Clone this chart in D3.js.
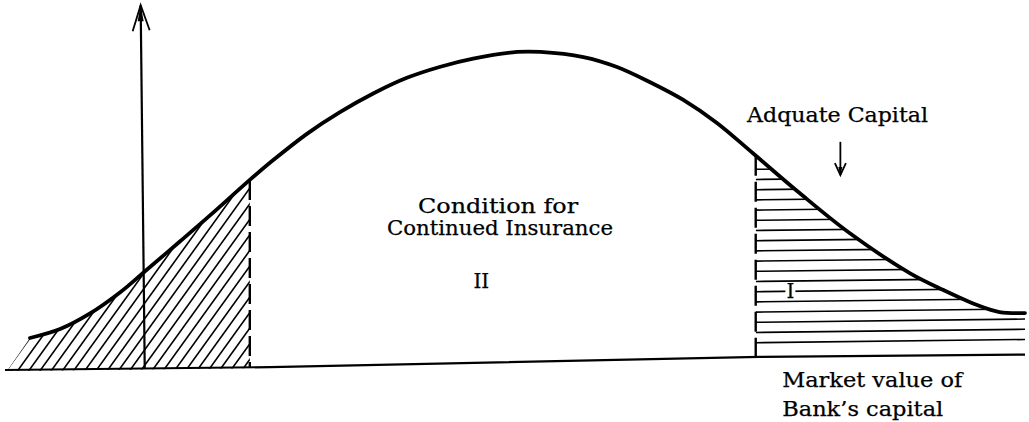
<!DOCTYPE html>
<html><head><meta charset="utf-8">
<script src="https://cdn.jsdelivr.net/npm/d3@7"></script>
<style>html,body{margin:0;padding:0;background:#fff;} svg{display:block;}</style>
</head><body>
<svg id="chart" width="1029" height="422"></svg>
<script>
// Density curve of the market value of the bank's capital (arbitrary units)
const curveX = [2.45, 5.4, 8.3, 11.3, 13.7, 17.2, 20.1, 24.0, 26.3, 29.6, 32.8, 36.1, 39.4, 42.6, 45.9, 50.2, 52.5, 56.7, 60.0, 63.2, 66.5, 69.8, 73.3, 77.9, 82.8, 88.7, 92.0, 95.3, 97.5, 100];
const curveY = [10.0, 12.8, 17.6, 24.3, 30.8, 40.3, 48.3, 59.4, 65.6, 73.8, 80.5, 86.4, 91.3, 94.7, 97.3, 99.4, 99.4, 97.8, 94.7, 90.0, 84.4, 77.2, 67.8, 55.3, 42.8, 30.3, 25.0, 20.3, 18.1, 17.8];
// hand-drawn baseline (slightly rising to the right)
const baseX = [0, 26, 74, 100];
const baseY = [0, 0.9, 4.1, 4.8];
// region boundaries
const leftCut = 24.0;
const rightCut = 73.6;
// vertical axis (bottom, top)
const axisX = [13.7, 13.3];
const axisY = [0.3, 114];
// "Adequate capital" arrow (top, tip)
const adqX = [81.9, 81.9];
const adqY = [71.3, 60.9];
// labels
const labelText = ["Adquate Capital", "Condition for", "Continued Insurance", "II", "I", "Market value of", "Bank\u2019s capital"];
const labelX = [72.75, 40.5, 37.45, 46.7, 77.0, 76.2, 76.2];
const labelY = [77.6, 49.0, 42.2, 25.6, 22.5, -5.4, -14.4];

const svg = d3.select("#chart");
const W = 1029, H = 422;
const xs = d3.scaleLinear().domain([0, 100]).range([5, 1025]);
const ys = d3.scaleLinear().domain([0, 100]).range([370, 50]);
const baseAt = d3.scaleLinear().domain(baseX).range(baseY);

const pts = curveX.map((x, i) => ({x, y: curveY[i]}));
const cv = d3.curveCatmullRom.alpha(0.5);
const lineGen = d3.line().x(d => xs(d.x)).y(d => ys(d.y)).curve(cv);
const areaGen = d3.area().x(d => xs(d.x)).y0(d => ys(baseAt(d.x)) + 1).y1(d => ys(d.y)).curve(cv);

const defs = svg.append("defs");
const tmp = svg.append("path").attr("d", lineGen(pts)).attr("fill", "none").attr("stroke", "none");
function curvePxAt(px) {
  const node = tmp.node(), L = node.getTotalLength();
  let lo = 0, hi = L, p;
  for (let i = 0; i < 50; i++) {
    const m = (lo + hi) / 2; p = node.getPointAtLength(m);
    if (p.x < px) lo = m; else hi = m;
  }
  return p.y;
}

const slope = 0.72; // hatch dx/dy
const startPx = xs(curveX[0]), startPy = ys(curveY[0]);
const baseStartPy = ys(baseAt(curveX[0]));
const triBottomX = startPx - slope * (baseStartPy - startPy);

const cp = defs.append("clipPath").attr("id", "under");
cp.append("path").attr("d", areaGen(pts));
cp.append("path").attr("d", `M${triBottomX},${baseStartPy + 1}L${startPx},${startPy}L${startPx + 1},${baseStartPy + 1}Z`);
defs.append("clipPath").attr("id", "leftBand").append("rect")
  .attr("x", 0).attr("y", 0).attr("width", xs(leftCut)).attr("height", H);
defs.append("clipPath").attr("id", "rightBand").append("rect")
  .attr("x", xs(rightCut)).attr("y", 0).attr("width", W - xs(rightCut)).attr("height", H);

// left diagonal hatching
const gL = svg.append("g").attr("clip-path", "url(#under)").append("g").attr("clip-path", "url(#leftBand)");
for (let i = -1; i < 30; i++) {
  const x0 = triBottomX + i * 11.2;
  const yB = baseStartPy + 6, yT = 120;
  gL.append("line")
    .attr("x1", x0 - slope * (yB - baseStartPy)).attr("y1", yB)
    .attr("x2", x0 + slope * (baseStartPy - yT)).attr("y2", yT)
    .attr("stroke", "#000").attr("stroke-width", 1.6);
}
// right horizontal hatching
const gR = svg.append("g").attr("clip-path", "url(#under)").append("g").attr("clip-path", "url(#rightBand)");
const rX0 = xs(rightCut), rX1 = W;
const rBase = ys(baseAt(rightCut));
for (let k = 0; k < 30; k++) {
  const y0 = 169.3 + k * 10.2;
  if (y0 > rBase - 8) break;
  gR.append("line")
    .attr("x1", rX0).attr("y1", y0)
    .attr("x2", rX1).attr("y2", y0 - 0.012 * (rX1 - rX0))
    .attr("stroke", "#000").attr("stroke-width", 1.6);
}

// dashed cut lines
[leftCut, rightCut].forEach(c => {
  const px = xs(c);
  svg.append("line")
    .attr("x1", px).attr("y1", curvePxAt(px))
    .attr("x2", px).attr("y2", ys(baseAt(c)))
    .attr("stroke", "#000").attr("stroke-width", 2.4)
    .attr("stroke-dasharray", "20,6");
});

// baseline
svg.append("path")
  .attr("d", d3.line().x(d => xs(d)).y(d => ys(baseAt(d)))(baseX))
  .attr("fill", "none").attr("stroke", "#000").attr("stroke-width", 2.2);

// density curve
tmp.attr("stroke", "#000").attr("stroke-width", 3.8).attr("stroke-linecap", "round").raise();

// vertical axis with arrow
const ax0 = xs(axisX[0]), ay0 = ys(axisY[0]), ax1 = xs(axisX[1]), ay1 = ys(axisY[1]);
svg.append("line").attr("x1", ax0).attr("y1", ay0).attr("x2", ax1).attr("y2", ay1)
  .attr("stroke", "#000").attr("stroke-width", 2.2);
svg.append("path")
  .attr("d", `M${ax1 - 8},${ay1 + 26}L${ax1},${ay1}L${ax1 + 9},${ay1 + 25}`)
  .attr("fill", "none").attr("stroke", "#000").attr("stroke-width", 1.8);
svg.append("path")
  .attr("d", `M${ax1},${ay1}L${ax1 - 3},${ay1 + 16}L${ax1 + 3},${ay1 + 16}Z`)
  .attr("fill", "#000");

// Adequate capital arrow
const dx = xs(adqX[0]), dy0 = ys(adqY[0]), dy1 = ys(adqY[1]);
svg.append("line").attr("x1", dx).attr("y1", dy0).attr("x2", dx).attr("y2", dy1)
  .attr("stroke", "#000").attr("stroke-width", 1.8);
svg.append("path")
  .attr("d", `M${dx - 5.5},${dy1 - 12}L${dx},${dy1}L${dx + 5.5},${dy1 - 12}`)
  .attr("fill", "none").attr("stroke", "#000").attr("stroke-width", 1.8);
svg.append("path")
  .attr("d", `M${dx},${dy1}L${dx - 2},${dy1 - 8}L${dx + 2},${dy1 - 8}Z`).attr("fill", "#000");

// labels
const labelW = [181, 160, 226, null, null, 180, 161];
const labelAnchor = ["start", "start", "start", "middle", "middle", "start", "start"];
labelText.forEach((t, i) => {
  if (t === "I") {
    svg.append("rect").attr("x", xs(labelX[i]) - 5).attr("y", ys(labelY[i]) - 15)
      .attr("width", 10).attr("height", 16).attr("fill", "#fff");
  }
  const el = svg.append("text")
    .attr("x", xs(labelX[i])).attr("y", ys(labelY[i]))
    .attr("text-anchor", labelAnchor[i])
    .attr("font-family", "'DejaVu Serif', serif")
    .attr("font-size", 20).attr("fill", "#000")
    .attr("stroke", "#000").attr("stroke-width", 0.25)
    .text(t);
  if (labelW[i]) el.attr("textLength", labelW[i]).attr("lengthAdjust", "spacingAndGlyphs");
});
</script>
</body></html>
